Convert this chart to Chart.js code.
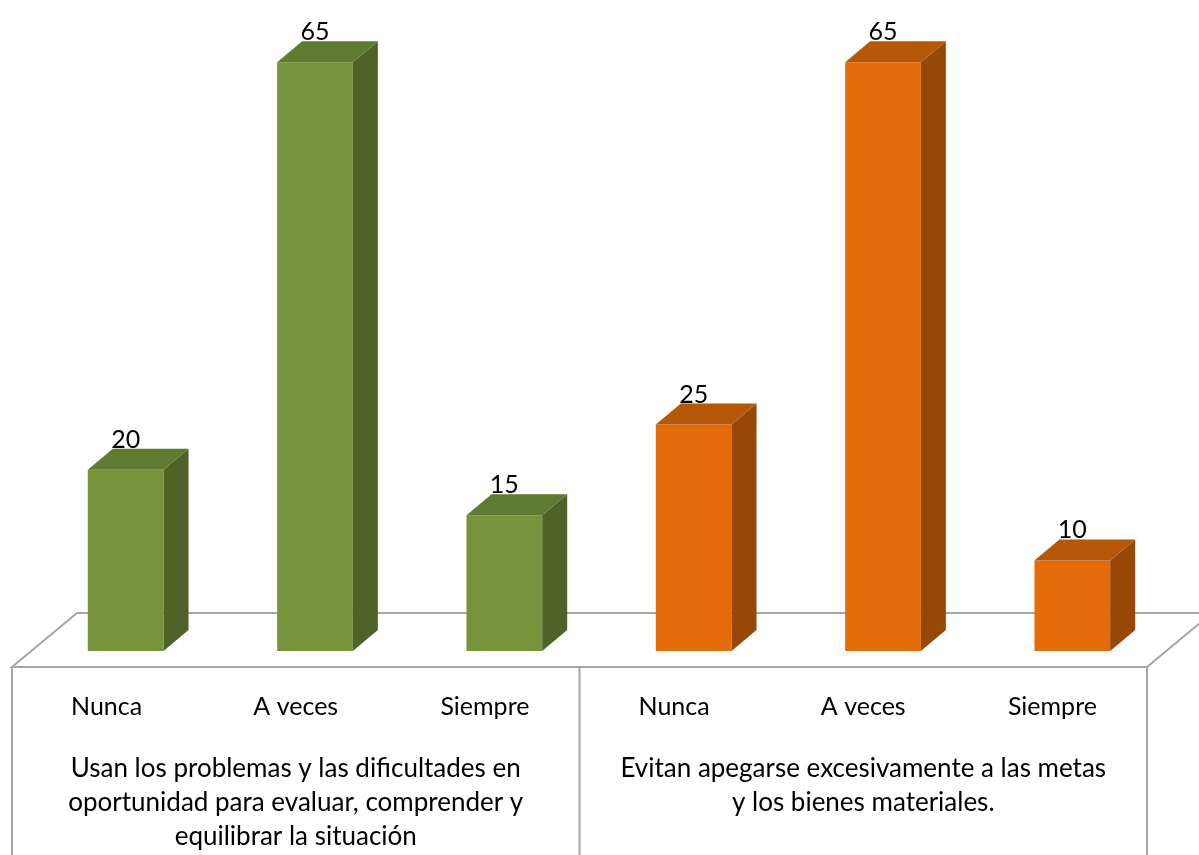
<!DOCTYPE html>
<html>
<head>
<meta charset="utf-8">
<script src="https://cdn.jsdelivr.net/npm/chart.js@4.4.1/dist/chart.umd.min.js"></script>
<style>
  html, body { margin: 0; padding: 0; background: #fff; }
  #chart { display: block; }
</style>
</head>
<body>
<canvas id="chart" width="1199" height="855"></canvas>
<script>
const answers = ["Nunca", "A veces", "Siempre"];
const usanValues = [20, 65, 15];
const evitanValues = [25, 65, 10];
const usanTitle = ["Usan los problemas y las dificultades en", "oportunidad para evaluar, comprender y", "equilibrar la situación"];
const evitanTitle = ["Evitan apegarse excesivamente a las metas", "y los bienes materiales."];

const labels = answers.concat(answers);
const values = usanValues.concat(evitanValues);

const green = { front: "#77933C", side: "#4F6228", top: "#5F7A31" };
const orange = { front: "#E46C0A", side: "#974806", top: "#B55709" };
const faces = values.map((v, i) => (i < answers.length ? green : orange));

// bar depth (3d offset) and floor geometry
const DX = 25, DY = 21;
const FONT = "Lato, 'Open Sans', sans-serif";
const LINE = "#A6A6A6";

function floorBox(chart) {
    const a = chart.chartArea;
    return {
        fy: a.bottom + 16,
        by: a.bottom - 38,
        fl: a.left - 19,
        fr: a.right - 20,
        off: 65,
    };
}

const floorAndTable = {
    id: "floorAndTable",
    beforeDatasetsDraw(chart) {
        const ctx = chart.ctx;
        const { fy, by, fl, fr, off } = floorBox(chart);
        const mid = (fl + fr) / 2;
        ctx.save();
        ctx.strokeStyle = LINE;
        ctx.lineWidth = 2;
        ctx.beginPath();
        // floor
        ctx.moveTo(fl, fy);
        ctx.lineTo(fl + off, by);
        ctx.lineTo(fr + off, by);
        ctx.lineTo(fr, fy);
        ctx.closePath();
        // front panel with the two group columns
        ctx.moveTo(fl, fy); ctx.lineTo(fl, chart.height);
        ctx.moveTo(mid, fy); ctx.lineTo(mid, chart.height);
        ctx.moveTo(fr, fy); ctx.lineTo(fr, chart.height);
        ctx.stroke();

        ctx.fillStyle = "#000";
        ctx.textAlign = "center";
        ctx.textBaseline = "alphabetic";
        ctx.font = "25px " + FONT;
        const colW = (fr - fl) / labels.length;
        labels.forEach((lab, i) => {
            ctx.fillText(lab, fl + colW * (i + 0.5), fy + 48);
        });
        ctx.font = "26px " + FONT;
        usanTitle.forEach((t, i) => ctx.fillText(t, (fl + mid) / 2, fy + 110 + i * 34));
        evitanTitle.forEach((t, i) => ctx.fillText(t, (mid + fr) / 2, fy + 110 + i * 34));
        ctx.restore();
    },
    afterDatasetsDraw(chart) {
        const ctx = chart.ctx;
        const meta = chart.getDatasetMeta(0);
        ctx.save();
        meta.data.forEach((el, i) => {
            const { x, y, base, width } = el.getProps(["x", "y", "base", "width"], true);
            const l = x - width / 2, r = x + width / 2;
            // side face
            ctx.fillStyle = faces[i].side;
            ctx.beginPath();
            ctx.moveTo(r, y);
            ctx.lineTo(r + DX, y - DY);
            ctx.lineTo(r + DX, base - DY);
            ctx.lineTo(r, base);
            ctx.closePath();
            ctx.fill();
            // top face
            ctx.fillStyle = faces[i].top;
            ctx.beginPath();
            ctx.moveTo(l, y);
            ctx.lineTo(l + DX, y - DY);
            ctx.lineTo(r + DX, y - DY);
            ctx.lineTo(r, y);
            ctx.closePath();
            ctx.fill();
            // value label
            ctx.fillStyle = "#000";
            ctx.font = "25px " + FONT;
            ctx.textAlign = "center";
            ctx.textBaseline = "alphabetic";
            ctx.fillText(String(values[i]), x, y - DY - 1);
        });
        ctx.restore();
    },
};

new Chart(document.getElementById("chart"), {
    type: "bar",
    data: {
        labels: labels,
        datasets: [
            {
                data: values,
                backgroundColor: faces.map((f) => f.front),
                borderWidth: 0,
                barPercentage: 0.4,
                categoryPercentage: 1,
            },
        ],
    },
    options: {
        responsive: false,
        animation: false,
        layout: {
            padding: { left: 31, right: 32, top: 17, bottom: 204 },
        },
        plugins: {
            legend: { display: false },
            tooltip: { enabled: false },
        },
        scales: {
            x: { display: false },
            y: { display: false, min: 0, max: 70 },
        },
    },
    plugins: [floorAndTable],
});
</script>
</body>
</html>
